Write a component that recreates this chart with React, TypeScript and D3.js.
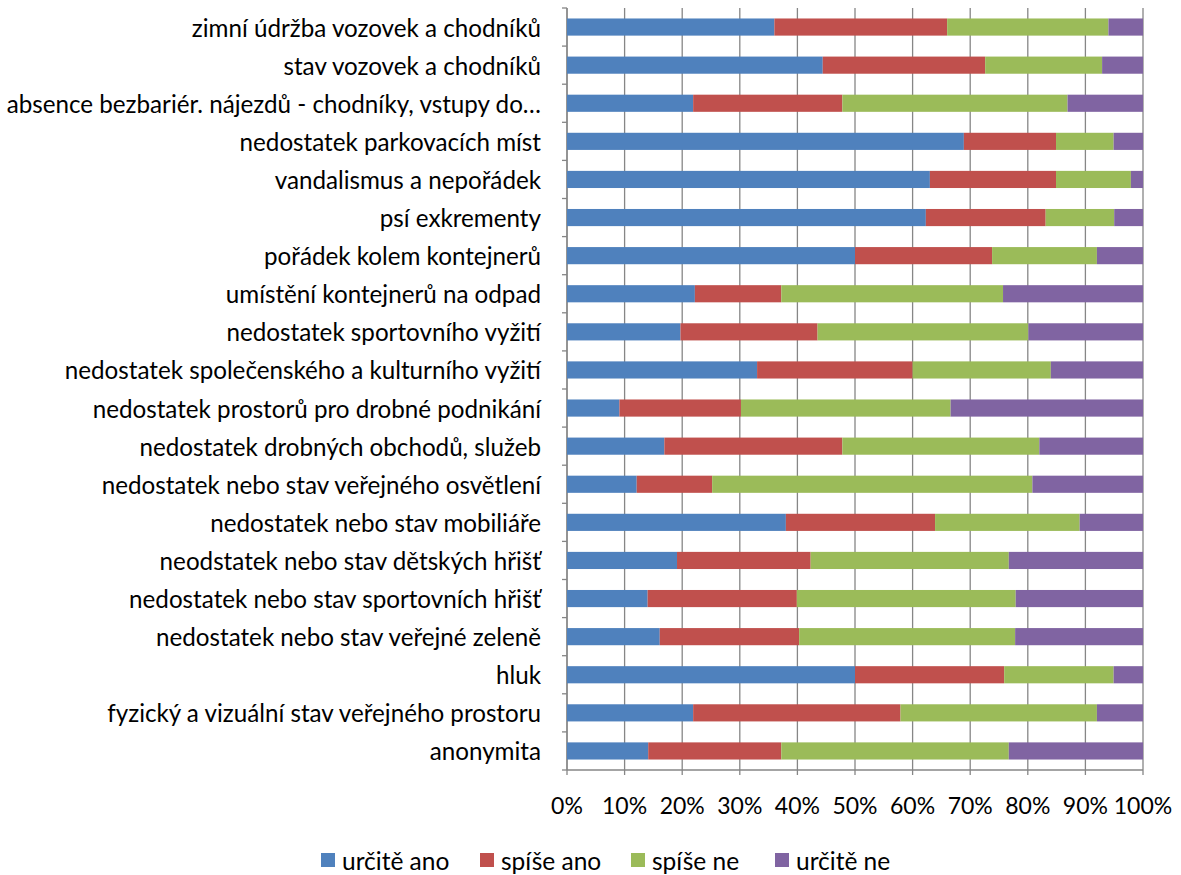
import { useEffect } from 'react';
import * as d3 from 'd3';

const categories = [
  'zimní údržba vozovek a chodníků',
  'stav vozovek a chodníků',
  'absence bezbariér. nájezdů - chodníky, vstupy do…',
  'nedostatek parkovacích míst',
  'vandalismus a nepořádek',
  'psí exkrementy',
  'pořádek kolem kontejnerů',
  'umístění kontejnerů na odpad',
  'nedostatek sportovního vyžití',
  'nedostatek společenského a kulturního vyžití',
  'nedostatek prostorů pro drobné podnikání',
  'nedostatek drobných obchodů, služeb',
  'nedostatek nebo stav veřejného osvětlení',
  'nedostatek nebo stav mobiliáře',
  'neodstatek nebo stav dětských hřišť',
  'nedostatek nebo stav sportovních hřišť',
  'nedostatek nebo stav veřejné zeleně',
  'hluk',
  'fyzický a vizuální stav veřejného prostoru',
  'anonymita',
];

const seriesNames = ['určitě ano', 'spíše ano', 'spíše ne', 'určitě ne'];
const seriesColors = ['#4F81BD', '#C0504D', '#9BBB59', '#8064A2'];

const urciteAno = [36.0, 44.4, 21.9, 68.9, 63.0, 62.3, 50.0, 22.2, 19.7, 33.0, 9.1, 16.9, 12.1, 38.0, 19.1, 14.0, 16.1, 50.0, 21.9, 14.1];
const spiseAno = [30.0, 28.2, 25.9, 16.0, 21.9, 20.8, 23.8, 15.0, 23.8, 27.0, 21.1, 30.9, 13.1, 25.9, 23.2, 25.9, 24.2, 25.9, 36.0, 23.1];
const spiseNe = [28.0, 20.3, 39.1, 10.0, 13.0, 11.9, 18.2, 38.5, 36.6, 24.0, 36.4, 34.2, 55.6, 25.1, 34.4, 38.0, 37.5, 19.0, 34.1, 39.5];
const urciteNe = [6.0, 7.1, 13.1, 5.1, 2.1, 5.0, 8.0, 24.3, 19.9, 16.0, 33.4, 18.0, 19.2, 11.0, 23.3, 22.1, 22.2, 5.1, 8.0, 23.3];

const xTicks = [0, 10, 20, 30, 40, 50, 60, 70, 80, 90, 100];

const W = 1181;
const H = 875;
const FONT = 'Lato, "Open Sans", sans-serif';

export default function App() {
  useEffect(() => {
    document.body.style.margin = '0';
  }, []);

  const left = 567;
  const right = 1143;
  const top = 8;
  const bottom = 770;

  const x = d3.scaleLinear().domain([0, 100]).range([left, right]);
  const y = d3.scaleBand<string>().domain(categories).range([top, bottom]).paddingInner(0.55).paddingOuter(0.275);
  const band = (bottom - top) / categories.length;

  const rows = categories.map((c, i) => {
    const vals = [urciteAno[i], spiseAno[i], spiseNe[i], urciteNe[i]];
    const total = d3.sum(vals);
    const norm = vals.map(v => (v / total) * 100);
    const stack: { x0: number; x1: number; k: number }[] = [];
    let acc = 0;
    norm.forEach((v, k) => {
      stack.push({ x0: acc, x1: acc + v, k });
      acc += v;
    });
    return { c, stack };
  });

  // legend item positions (left edge of the colour square)
  const legendX = [321, 480, 631, 775];

  return (
    <svg width={W} height={H} style={{ display: 'block', background: '#fff' }}>
      {/* vertical gridlines */}
      {xTicks.map(t => (
        <line key={'g' + t} x1={x(t)} x2={x(t)} y1={top} y2={bottom + 5} stroke="#868686" strokeWidth={1.3} />
      ))}
      {/* left axis with ticks at category boundaries */}
      <line x1={left} x2={left} y1={top} y2={bottom} stroke="#868686" strokeWidth={1.3} />
      {d3.range(categories.length + 1).map(i => (
        <line key={'yt' + i} x1={left - 5} x2={left} y1={top + i * band} y2={top + i * band} stroke="#868686" strokeWidth={1.3} />
      ))}
      <line x1={left} x2={right} y1={bottom} y2={bottom} stroke="#868686" strokeWidth={1.3} />

      {/* bars */}
      {rows.map(r => (
        <g key={r.c}>
          {r.stack.map(s => (
            <rect
              key={s.k}
              x={x(s.x0)}
              y={y(r.c)}
              width={x(s.x1) - x(s.x0)}
              height={y.bandwidth()}
              fill={seriesColors[s.k]}
            />
          ))}
        </g>
      ))}

      {/* category labels */}
      {categories.map(c => (
        <text
          key={'l' + c}
          x={541}
          y={(y(c) ?? 0) + y.bandwidth() / 2}
          textAnchor="end"
          dominantBaseline="central"
          fontFamily={FONT}
          fontSize={24.2}
          fill="#000"
        >
          {c}
        </text>
      ))}

      {/* x tick labels */}
      {xTicks.map(t => (
        <text
          key={'xl' + t}
          x={x(t)}
          y={805}
          textAnchor="middle"
          dominantBaseline="central"
          fontFamily={FONT}
          fontSize={23}
          fill="#000"
        >
          {t + '%'}
        </text>
      ))}

      {/* legend */}
      {seriesNames.map((n, k) => (
        <g key={n} transform={`translate(${legendX[k]},860)`}>
          <rect x={0} y={-7} width={14} height={14} fill={seriesColors[k]} />
          <text x={21} y={0} dominantBaseline="central" fontFamily={FONT} fontSize={24.5} fill="#000">
            {n}
          </text>
        </g>
      ))}
    </svg>
  );
}
